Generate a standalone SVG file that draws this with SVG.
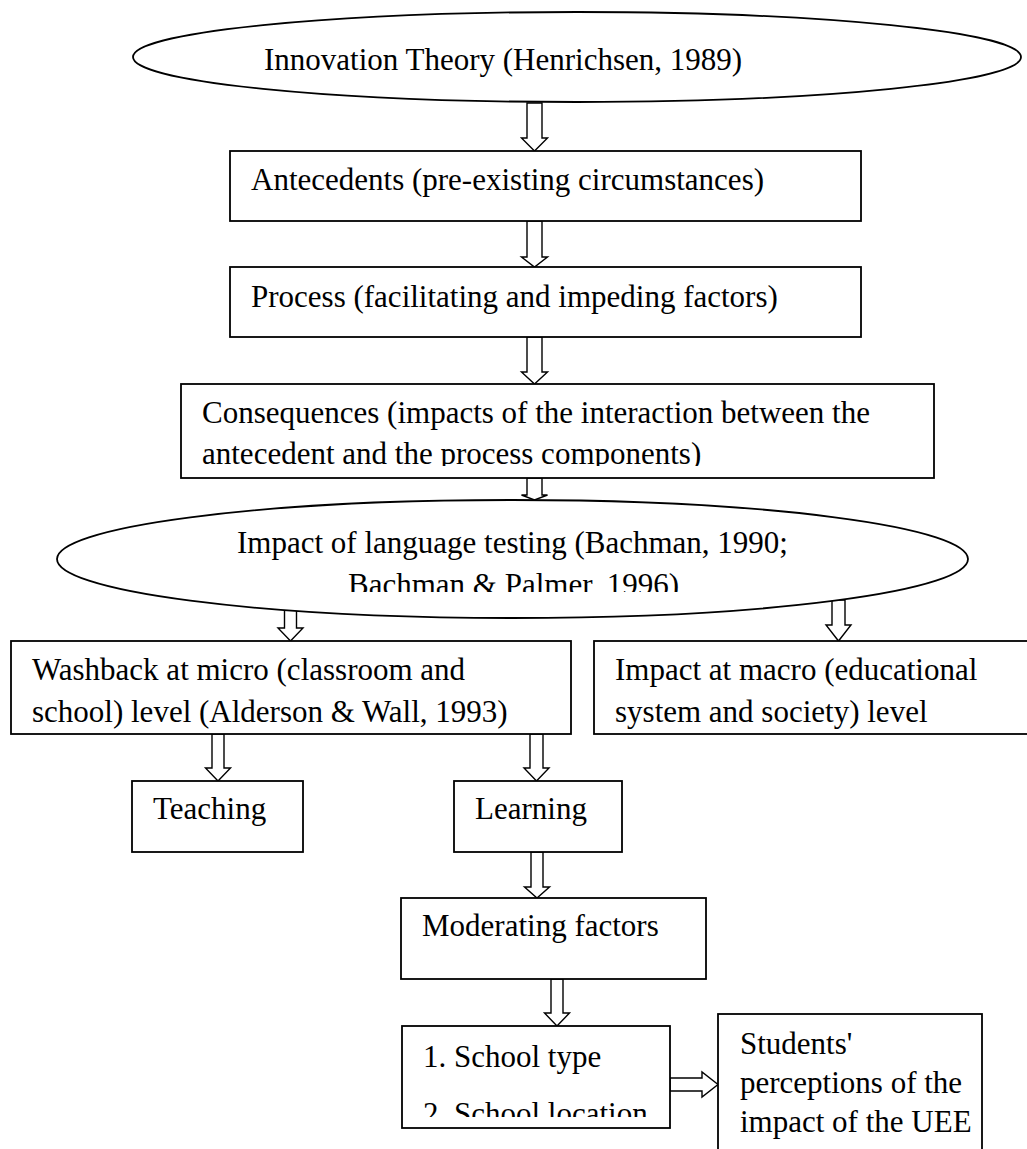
<svg xmlns="http://www.w3.org/2000/svg" width="1027" height="1149" viewBox="0 0 1027 1149">
<style>
.box{fill:#fff;stroke:#000;stroke-width:1.8}
.arr{fill:#fff;stroke:#000;stroke-width:1.4;stroke-linejoin:miter}
.t{font-family:"Liberation Serif","Times New Roman",serif;font-size:31px;fill:#000}
</style>
<defs>
<clipPath id="clipCons"><rect x="181" y="384" width="753" height="82"/></clipPath>
<clipPath id="clipImp"><rect x="57" y="500" width="911" height="92"/></clipPath>
<clipPath id="clipSchool"><rect x="402" y="1026" width="268" height="91"/></clipPath>
</defs>
<rect width="1027" height="1149" fill="#fff"/>
<g id="connectors">
<path class="arr" d="M527 103 L527 138 L521.5 138 L534.5 151 L547.5 138 L542 138 L542 103 Z"/>
<path class="arr" d="M527 221 L527 257 L521.5 257 L534.5 267 L547.5 257 L542 257 L542 221 Z"/>
<path class="arr" d="M527 337 L527 372 L521.5 372 L534.5 384 L547.5 372 L542 372 L542 337 Z"/>
<path class="arr" d="M527 478 L527 495 L521.5 495 L534.5 500 L547.5 495 L542 495 L542 478 Z"/>
<path class="arr" d="M284.5 610 L284.5 628 L278 628 L290.5 641 L303 628 L296.5 628 L296.5 610 Z"/>
<path class="arr" d="M832 600 L832 625 L826 625 L838.5 641 L851 625 L845 625 L845 600 Z"/>
<path class="arr" d="M212 734 L212 768 L205.5 768 L218 781 L230.5 768 L224 768 L224 734 Z"/>
<path class="arr" d="M530 734 L530 768 L524 768 L536.5 781 L549 768 L543 768 L543 734 Z"/>
<path class="arr" d="M531 852 L531 887 L524.5 887 L537 898 L549.5 887 L543 887 L543 852 Z"/>
<path class="arr" d="M551 979 L551 1013 L544.5 1013 L557 1026 L569.5 1013 L563 1013 L563 979 Z"/>
<path class="arr" d="M670 1078 L702 1078 L702 1072 L718 1084.5 L702 1097 L702 1091 L670 1091 Z"/>
</g>
<g id="innovation">
<ellipse class="box" cx="577" cy="57" rx="444" ry="45"/>
<text class="t" x="264" y="70">Innovation Theory (Henrichsen, 1989)</text>
</g>
<g id="antecedents">
<rect class="box" x="230" y="151" width="631" height="70"/>
<text class="t" x="251" y="190">Antecedents (pre-existing circumstances)</text>
</g>
<g id="process">
<rect class="box" x="230" y="267" width="631" height="70"/>
<text class="t" x="251" y="307">Process (facilitating and impeding factors)</text>
</g>
<g id="consequences">
<rect class="box" x="181" y="384" width="753" height="94"/>
<g clip-path="url(#clipCons)">
<text class="t" x="202" y="423">Consequences (impacts of the interaction between the</text>
<text class="t" x="202" y="464">antecedent and the process components)</text>
</g>
</g>
<g id="impact-testing">
<ellipse class="box" cx="512.5" cy="559" rx="455.5" ry="59"/>
<g clip-path="url(#clipImp)">
<text class="t" x="237" y="553">Impact of language testing (Bachman, 1990;</text>
<text class="t" x="348" y="595">Bachman &amp; Palmer, 1996)</text>
</g>
</g>
<g id="washback">
<rect class="box" x="11" y="641" width="560" height="93"/>
<text class="t" x="32" y="680">Washback at micro (classroom and</text>
<text class="t" x="32" y="722">school) level (Alderson &amp; Wall, 1993)</text>
</g>
<g id="macro">
<rect class="box" x="594" y="641" width="440" height="93"/>
<text class="t" x="615" y="680">Impact at macro (educational</text>
<text class="t" x="615" y="722">system and society) level</text>
</g>
<g id="teaching">
<rect class="box" x="132" y="781" width="171" height="71"/>
<text class="t" x="153" y="819">Teaching</text>
</g>
<g id="learning">
<rect class="box" x="454" y="781" width="168" height="71"/>
<text class="t" x="475" y="819">Learning</text>
</g>
<g id="moderating">
<rect class="box" x="401" y="898" width="305" height="81"/>
<text class="t" x="422" y="936">Moderating factors</text>
</g>
<g id="school">
<rect class="box" x="402" y="1026" width="268" height="102"/>
<g clip-path="url(#clipSchool)">
<text class="t" x="423" y="1067">1. School type</text>
<text class="t" x="423" y="1124">2. School location</text>
</g>
</g>
<g id="students">
<rect class="box" x="718" y="1014" width="264" height="150"/>
<text class="t" x="740" y="1054">Students'</text>
<text class="t" x="740" y="1093">perceptions of the</text>
<text class="t" x="740" y="1132">impact of the UEE</text>
</g>
</svg>
